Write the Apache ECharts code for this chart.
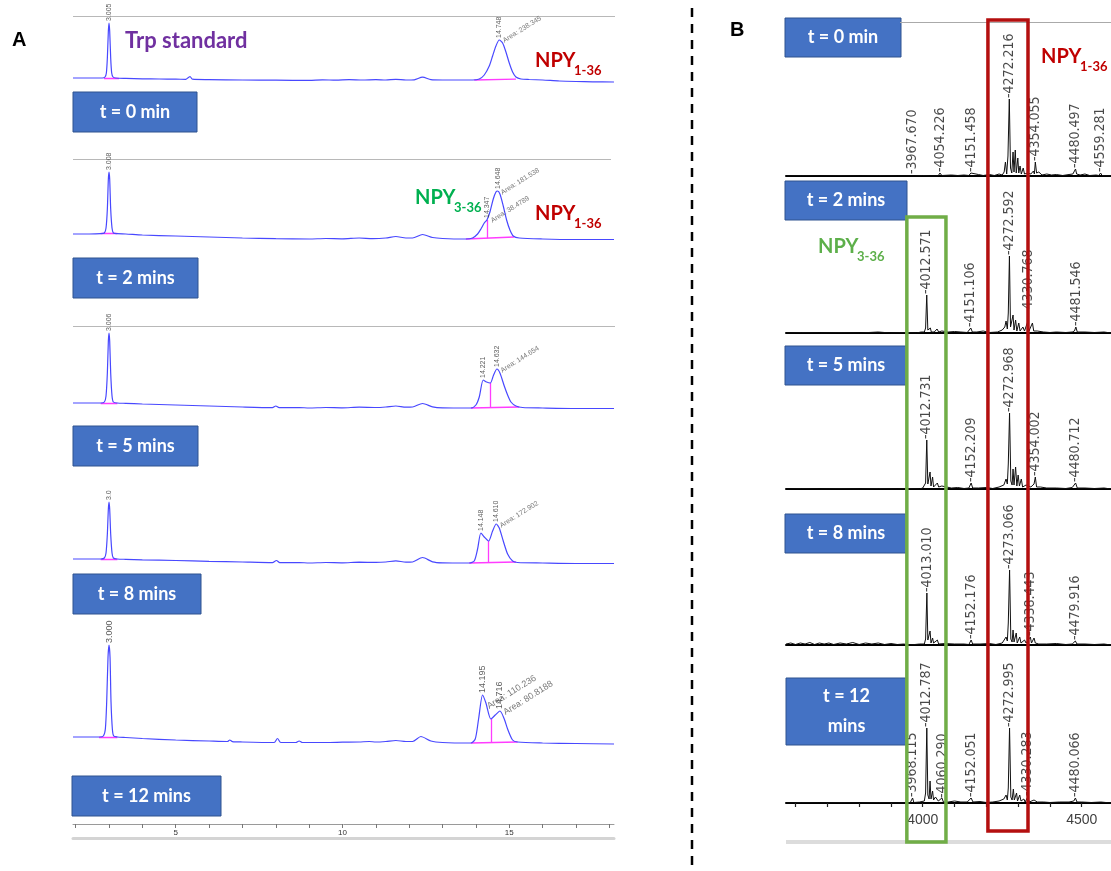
<!DOCTYPE html>
<html><head><meta charset="utf-8">
<script src="https://cdn.jsdelivr.net/npm/echarts@6/dist/echarts.min.js"></script>
<style>html,body{margin:0;padding:0;background:#fff}#c{width:1111px;height:871px}</style>
</head><body><div id="c"></div>
<script>
// ---------------- DATA ----------------
// Panel A: HPLC chromatograms (retention time in min, absorbance in arbitrary mAU)
const sampleTimes = ['t = 0 min', 't = 2 mins', 't = 5 mins', 't = 8 mins', 't = 12 mins'];
const chromT0 = [[1.92,0],[2.3,0],[2.6,0],[2.8,0],[2.88,1],[2.92,5],[2.95,20],[2.98,47],[3.0,55],[3.02,47],[3.05,20],[3.08,5],[3.12,1],[3.2,0],[3.5,-0.4],[4.0,-0.8],[4.5,-1],[5.0,-1.2],[5.3,-1.3],[5.38,0.5],[5.43,1.5],[5.5,-1.2],[6,-1.6],[7,-2],[8,-2.2],[9,-2.4],[9.4,-1.8],[9.8,-2.2],[10.2,-1.6],[10.6,-2],[11,-1.6],[11.3,-2],[11.6,-1.3],[11.9,-2],[12.15,-1.8],[12.4,0.8],[12.65,-1.6],[13,-2],[13.5,-2],[13.9,-2],[14.1,-1],[14.25,3],[14.4,12],[14.5,22],[14.6,32],[14.7,38],[14.8,35],[14.9,26],[15.0,15],[15.1,6],[15.2,1],[15.35,-1],[15.6,-1.5],[16,-2],[16.5,-3],[17,-3.5],[17.5,-3.8],[18.14,-4]];
const chromT2 = [[1.92,0],[2.4,0],[2.75,0.3],[2.86,1],[2.91,6],[2.95,25],[2.98,55],[3.0,62],[3.02,55],[3.05,25],[3.09,6],[3.13,1],[3.25,0.3],[3.5,0],[4,-1],[5,-2],[6,-3],[7,-4],[8,-4.6],[9,-5],[9.5,-4.5],[10,-4.8],[10.5,-4],[10.9,-4.6],[11.3,-4],[11.6,-2.5],[11.9,-4],[12.1,-4],[12.4,-0.5],[12.7,-3.5],[13,-4.5],[13.7,-5],[13.9,-4],[14.05,0],[14.15,5],[14.25,11],[14.33,14],[14.42,22],[14.52,35],[14.6,42],[14.65,43],[14.72,40],[14.82,28],[14.92,14],[15.02,4],[15.12,-2],[15.3,-4],[16,-5],[17,-5.5],[18.14,-5.5]];
const chromT5 = [[1.92,0],[2.4,0],[2.75,0],[2.86,1],[2.91,7],[2.95,30],[2.98,62],[3.0,70],[3.02,62],[3.05,30],[3.09,7],[3.13,1],[3.25,0],[3.5,-0.3],[4,-1],[5,-2],[6,-3],[7,-4],[7.9,-4.6],[8.0,-3],[8.1,-4.6],[8.7,-4.5],[9,-5],[9.5,-4.5],[10,-4.8],[10.5,-4.2],[11,-4.5],[11.3,-4],[11.6,-3],[11.9,-4.2],[12.1,-4],[12.4,-0.5],[12.7,-3.8],[13,-4.8],[13.85,-5],[14.0,-2],[14.1,6],[14.22,23],[14.32,21],[14.43,20],[14.53,28],[14.63,34],[14.72,30],[14.85,17],[14.95,8],[15.05,1],[15.2,-3],[15.4,-4.5],[16,-5],[17,-5.5],[18.14,-5.5]];
const chromT8 = [[1.92,0],[2.4,0],[2.75,0],[2.86,1],[2.91,6],[2.95,25],[2.98,50],[3.0,57],[3.02,50],[3.05,25],[3.09,6],[3.13,1],[3.25,0],[3.5,-0.3],[4,-0.8],[5,-1.5],[6,-2.3],[7,-3],[7.9,-3.6],[8.02,-1.5],[8.12,-3.6],[8.7,-3.5],[9,-4],[9.5,-3.5],[10,-3.8],[10.5,-3.2],[11,-3.4],[11.3,-3],[11.6,-1.8],[11.9,-3.2],[12.1,-3],[12.4,1.5],[12.7,-2.8],[13,-3.8],[13.8,-4],[13.95,-2],[14.05,10],[14.15,26],[14.25,22],[14.38,18],[14.5,28],[14.61,35],[14.7,31],[14.82,18],[14.95,5],[15.1,-2],[15.25,-3.5],[16,-4],[17,-4.5],[18.14,-4.5]];
const chromT12 = [[1.92,0],[2.4,0],[2.7,0],[2.83,1],[2.89,8],[2.93,35],[2.97,80],[3.0,92],[3.03,80],[3.06,35],[3.1,8],[3.14,1],[3.25,0],[3.5,-0.5],[4,-1.5],[5,-3],[6,-4],[6.55,-4.5],[6.62,-3],[6.7,-4.6],[7,-5],[7.95,-5.5],[8.05,-1.5],[8.15,-5.5],[8.6,-5.5],[8.7,-4],[8.8,-5.5],[9.5,-5.5],[10,-5.2],[10.5,-5],[10.8,-4.5],[11.0,-5],[11.3,-4.5],[11.6,-3.5],[11.9,-4.5],[12.1,-4.5],[12.35,0.5],[12.65,-4],[13,-5.5],[13.85,-6],[13.98,-2],[14.08,18],[14.2,42],[14.3,34],[14.45,18],[14.58,22],[14.72,26],[14.85,18],[14.95,8],[15.1,-3],[15.25,-5],[16,-6],[17,-6.5],[18.14,-7]];
const chromTraces = [chromT0, chromT2, chromT5, chromT8, chromT12];

// integration baselines / dividers drawn by the integrator (pink)
const integT0 = [[[2.85,0],[3.3,-0.2]], [[13.95,-2],[15.2,-1.2]]];
const integT2 = [[[2.75,0.3],[3.25,0.3]], [[13.7,-5],[15.15,-3]], [[14.33,-4.3],[14.33,14]]];
const integT5 = [[[2.75,0],[3.25,0]], [[13.85,-5],[15.3,-4]], [[14.43,-4.6],[14.43,20]]];
const integT8 = [[[2.75,0],[3.25,0]], [[13.8,-4],[15.2,-3]], [[14.38,-3.6],[14.38,18]]];
const integT12 = [[[2.7,0],[3.25,0]], [[13.85,-6],[15.25,-5]], [[14.45,-5.6],[14.45,18]]];
const integSegs = [integT0, integT2, integT5, integT8, integT12];

// retention time labels [t, y, text]
const rtLabels = [
  [[3.0,55,'3.005'],[14.7,38,'14.748']],
  [[3.0,62,'3.008'],[14.33,14,'14.347'],[14.65,43,'14.648']],
  [[3.0,70,'3.006'],[14.22,23,'14.221'],[14.63,34,'14.632']],
  [[3.0,57,'3.0'],[14.15,26,'14.148'],[14.61,35,'14.610']],
  [[3.0,92,'3.000'],[14.2,42,'14.195'],[14.72,26,'14.716']]
];
const areaLabels = [
  [[14.74,37,'Area: 238.345']],
  [[14.68,41,'Area: 181.538'],[14.38,13,'Area: 38.4789']],
  [[14.67,32,'Area: 144.654']],
  [[14.65,33,'Area: 172.902']],
  [[14.27,30,'Area: 110.236'],[14.76,24,'Area: 80.8188']]
];
const rulerTicks = [2,3,4,5,6,7,8,9,10,11,12,13,14,15,16,17,18];
const rulerLabels = [5,10,15];

// Panel B: MALDI-TOF spectra (m/z, intensity a.u.)
const spec0 = [[3570,0],[3620,0.5],[3680,0],[3740,0.5],[3800,0],[3860,0.5],[3920,0],[3962,0],[3967.7,2],[3973,0],[4000,0.5],[4020,0],[4048,0],[4054.2,3],[4060,0.5],[4090,1],[4110,0.5],[4130,1],[4145,0.5],[4151.5,3],[4157,1],[4175,1.5],[4190,0.5],[4210,1.5],[4225,0.5],[4240,2],[4250,1],[4256,4],[4260,14],[4264,2],[4268,20],[4272.2,77],[4276,8],[4280,3],[4284,24],[4287,4],[4291,26],[4294,3],[4299,18],[4302,3],[4306,10],[4310,2],[4316,8],[4320,2],[4330,3],[4340,2],[4348,5],[4351,2],[4354,14],[4358,3],[4365,4],[4375,1],[4390,2],[4405,1],[4420,1.5],[4440,0.5],[4460,1.5],[4472,2],[4477,3],[4480.5,7],[4484,2],[4495,1],[4510,2],[4525,0.5],[4545,1],[4554,0.5],[4559.3,3],[4564,0.5],[4592,0]];
const spec2 = [[3570,0],[3620,0.5],[3680,0],[3740,0.5],[3800,0],[3860,1],[3900,0],[3940,0.5],[3980,0],[3995,1],[4005,1],[4009,5],[4012.6,38],[4016,3],[4020,1],[4024,5],[4027,1],[4032,3],[4036,1],[4045,4],[4050,1],[4060,2],[4065,0.5],[4080,1],[4100,1.5],[4120,1],[4140,0.5],[4151.1,5],[4156,1],[4170,1],[4190,2],[4210,0.5],[4235,1],[4250,3],[4258,6],[4262,12],[4266,4],[4269,20],[4272.6,77],[4276,6],[4281,4],[4284,18],[4287,3],[4292,13],[4296,2],[4302,10],[4306,2],[4315,6],[4320,2],[4330.8,12],[4334,2],[4345,10],[4349,2],[4360,2],[4380,1],[4400,0.5],[4420,1],[4450,0.5],[4470,1],[4477,2],[4481.5,6],[4486,1],[4510,1],[4540,0.5],[4570,1],[4592,0]];
const spec5 = [[3570,0],[3620,0.5],[3680,0],[3740,0.5],[3800,0],[3860,0.5],[3920,0],[3960,0.5],[3990,0],[4000,1],[4005,1],[4009,6],[4012.7,49],[4016,5],[4020,3],[4023,17],[4026,3],[4031,12],[4034,2],[4040,4],[4046,6],[4050,2],[4060,3],[4066,1],[4090,1],[4110,1.5],[4130,0.5],[4145,1],[4152.2,6],[4157,1],[4175,1],[4200,1.5],[4220,0.5],[4240,2],[4255,4],[4262,10],[4266,5],[4269,25],[4273.0,76],[4277,8],[4281,4],[4284,20],[4287,4],[4292,22],[4296,3],[4300,14],[4304,3],[4310,10],[4314,2],[4325,4],[4340,2],[4350,5],[4354,12],[4358,2],[4370,2],[4390,1],[4420,1],[4450,0.5],[4470,1.5],[4480.7,6],[4486,1],[4510,1],[4540,0.5],[4570,1],[4592,0]];
const spec8 = [[3570,1],[3585,2],[3600,0.5],[3615,2],[3630,1],[3645,2.5],[3660,0.5],[3675,2],[3690,1],[3705,2],[3720,0.5],[3740,2],[3760,1],[3780,2.5],[3800,0.5],[3820,2],[3840,1],[3860,2],[3880,0.5],[3900,1.5],[3920,0.5],[3940,1],[3960,0],[3990,1],[4005,1],[4009,6],[4013.0,52],[4016,5],[4020,3],[4023,14],[4026,2],[4031,7],[4034,2],[4046,5],[4050,1],[4070,1.5],[4100,1],[4130,1],[4145,0.5],[4152.2,5],[4157,1],[4180,1],[4210,1.5],[4230,0.5],[4250,2],[4262,8],[4266,4],[4269,22],[4273.1,75],[4277,6],[4281,3],[4284,15],[4287,3],[4294,12],[4297,2],[4305,8],[4309,2],[4320,5],[4325,2],[4338.4,8],[4342,2],[4350,7],[4354,2],[4365,1],[4390,1],[4420,1.5],[4450,0.5],[4470,1],[4479.9,4],[4485,1],[4510,1],[4540,0.5],[4570,1],[4592,0]];
const spec12 = [[3570,0],[3620,0.5],[3680,0],[3740,0.5],[3800,0],[3860,0.5],[3920,0],[3960,0],[3968.1,5],[3972,0.5],[3990,1],[4005,2],[4009,10],[4012.8,75],[4016,8],[4020,4],[4023,22],[4026,4],[4031,12],[4034,3],[4040,6],[4045,8],[4049,2],[4060.3,5],[4065,1],[4080,1],[4100,2],[4120,1],[4140,1],[4152.1,5],[4158,1],[4180,1.5],[4200,0.5],[4220,1],[4240,2],[4255,4],[4262,8],[4266,3],[4269,15],[4273.0,75],[4277,6],[4281,3],[4285,14],[4288,3],[4295,10],[4298,2],[4305,8],[4309,2],[4318,4],[4322,1],[4330.3,6],[4335,1],[4350,3],[4360,1],[4380,1],[4400,0.5],[4430,1],[4460,1],[4475,2],[4480.1,5],[4485,1],[4500,1],[4530,0.5],[4560,1],[4592,0]];
const spectra = [spec0, spec2, spec5, spec8, spec12];

// labelled peaks [m/z, intensity, text]
const mzLabels = [
  [[3967.67,1,'3967.670'],[4054.226,3,'4054.226'],[4151.458,3,'4151.458'],[4272.216,77,'4272.216'],[4354.055,14,'4354.055'],[4480.497,7,'4480.497'],[4559.281,3,'4559.281']],
  [[4012.571,38,'4012.571'],[4151.106,5,'4151.106'],[4272.592,77,'4272.592'],[4330.768,18,'4330.768'],[4481.546,6,'4481.546']],
  [[4012.731,49,'4012.731'],[4152.209,6,'4152.209'],[4272.968,76,'4272.968'],[4354.002,12,'4354.002'],[4480.712,6,'4480.712']],
  [[4013.010,52,'4013.010'],[4152.176,5,'4152.176'],[4273.066,75,'4273.066'],[4338.443,8,'4338.443'],[4479.916,4,'4479.916']],
  [[3968.115,5,'3968.115'],[4012.787,75,'4012.787'],[4060.290,4,'4060.290'],[4152.051,5,'4152.051'],[4272.995,75,'4272.995'],[4330.283,6,'4330.283'],[4480.066,5,'4480.066']]
];
const mzTicks = [3600,3700,3800,3900,4000,4100,4200,4300,4400,4500];
const mzTickLabels = [4000,4500];
const boxNPY1_36 = [4205, 4331];   // m/z span of red highlight
const boxNPY3_36 = [3950, 4073];   // m/z span of green highlight

// ---------------- LAYOUT ----------------
const A_LEFT = 73, A_WIDTH = 541, T_MIN = 1.92, T_MAX = 18.14;
const aBase = [78, 234, 403, 559, 737];
const aTop = [70, 75, 77, 70, 100];
const B_LEFT = 786, B_WIDTH = 325, MZ_MIN = 3570, MZ_MAX = 4592;
const bBase = [176, 333, 489, 645, 803];
const NARROW = "'Liberation Sans Narrow','DejaVu Sans Condensed',sans-serif";

const grid = [], xAxis = [], yAxis = [], series = [];

for (let i = 0; i < 5; i++) {
  grid.push({left: A_LEFT, width: A_WIDTH, top: aBase[i] - aTop[i], height: aTop[i] + 10});
  xAxis.push({type: 'value', gridIndex: i, min: T_MIN, max: T_MAX, show: false});
  yAxis.push({type: 'value', gridIndex: i, min: -10, max: aTop[i], show: false});
  series.push({type: 'line', xAxisIndex: i, yAxisIndex: i, data: chromTraces[i], symbol: 'none', smooth: 0.25,
    lineStyle: {color: '#4848ff', width: 1.2}, z: 3, silent: true});
  series.push({type: 'lines', coordinateSystem: 'cartesian2d', xAxisIndex: i, yAxisIndex: i,
    data: integSegs[i].map(s => ({coords: s})), lineStyle: {color: '#ff3cff', width: 1.3, opacity: 1}, z: 2, silent: true});
  const fs = i === 4 ? 9 : 7;
  series.push({type: 'scatter', xAxisIndex: i, yAxisIndex: i, symbolSize: 0, silent: true, z: 4,
    data: rtLabels[i].map(d => ({value: [d[0], d[1]], name: d[2]})),
    label: {show: true, formatter: p => p.name, position: 'top', distance: 2, rotate: 90, align: 'left', verticalAlign: 'middle', fontSize: fs, color: '#333', fontFamily: 'Liberation Sans'}});
  series.push({type: 'scatter', xAxisIndex: i, yAxisIndex: i, symbolSize: 0, silent: true, z: 4,
    data: areaLabels[i].map(d => ({value: [d[0], d[1]], name: d[2]})),
    label: {show: true, formatter: p => p.name, position: 'right', distance: 3, rotate: 32, align: 'left', verticalAlign: 'middle', fontSize: fs, color: '#555', fontFamily: 'Liberation Sans'}});
}
// ruler axis for panel A (grid 5)
grid.push({left: A_LEFT, width: A_WIDTH, top: 824, height: 14});
xAxis.push({type: 'value', gridIndex: 5, min: T_MIN, max: T_MAX, position: 'top',
  axisLine: {show: true, onZero: false, lineStyle: {color: '#9a9a9a', width: 1}},
  axisTick: {show: true, inside: true, length: 4, customValues: rulerTicks, lineStyle: {color: '#777'}},
  axisLabel: {show: true, inside: true, customValues: rulerLabels, fontSize: 8, color: '#333', margin: 5},
  splitLine: {show: false}});
xAxis.push({type: 'value', gridIndex: 5, min: T_MIN, max: T_MAX, position: 'bottom',
  axisLine: {show: true, onZero: false, lineStyle: {color: '#d4d4d4', width: 3}}, axisTick: {show: false}, axisLabel: {show: false}, splitLine: {show: false}});
yAxis.push({type: 'value', gridIndex: 5, min: 0, max: 1, show: false});

// panel B grids
for (let j = 0; j < 5; j++) {
  const g = 6 + j, xi = 7 + j, yi = 6 + j;
  const last = j === 4;
  grid.push({left: B_LEFT, width: B_WIDTH, top: bBase[j] - 100, height: 100});
  xAxis.push({type: 'value', gridIndex: g, min: MZ_MIN, max: MZ_MAX,
    axisLine: {show: true, onZero: false, lineStyle: {color: '#000', width: 2}},
    axisTick: {show: last, length: 4, customValues: mzTicks, lineStyle: {color: '#222', width: 1.2}},
    axisLabel: {show: last, customValues: mzTickLabels, formatter: v => String(v), fontSize: 14, color: '#404040', margin: 10, fontFamily: 'Liberation Sans'},
    splitLine: {show: false}});
  yAxis.push({type: 'value', gridIndex: g, min: 0, max: 100, show: false});
  series.push({type: 'line', xAxisIndex: xi, yAxisIndex: yi, data: spectra[j], symbol: 'none',
    lineStyle: {color: '#111', width: 1}, z: 3, silent: true});
  series.push({type: 'scatter', xAxisIndex: xi, yAxisIndex: yi, symbolSize: 0, silent: true, z: 4,
    data: mzLabels[j].map(d => ({value: [d[0], d[1]], name: d[2]})),
    label: {show: true, formatter: p => '-' + p.name, position: 'top', distance: 1, rotate: 90, align: 'left', verticalAlign: 'middle', fontSize: 14, color: '#1a1a1a', fontFamily: NARROW}});
}

// ---------------- GRAPHICS ----------------
function box(x, y, w, h, txt, lh) {
  return {type: 'group', z: 20, children: [
    {type: 'rect', shape: {x: x, y: y, width: w, height: h}, style: {fill: '#4472C4', stroke: '#2F528F', lineWidth: 1}},
    {type: 'text', style: {text: txt, x: x + w / 2, y: y + h / 2, textAlign: 'center', textVerticalAlign: 'middle', align: 'center', verticalAlign: 'middle',
      fill: '#fff', font: 'bold 18px Lato', lineHeight: lh || 22}}
  ]};
}
function txt(x, y, t, font, color) {
  return {type: 'text', z: 21, style: {text: t, x: x, y: y, textAlign: 'left', textVerticalAlign: 'middle', align: 'left', verticalAlign: 'middle', font: font, fill: color}};
}
function npy(x, y, sub, color) {
  return [txt(x, y, 'NPY', 'bold 20px Lato', color), txt(x + 39, y + 10, sub, 'bold 13px Lato', color)];
}

const chart = echarts.init(document.getElementById('c'));
chart.setOption({animation: false, backgroundColor: '#fff', grid, xAxis, yAxis, series});

const px = v => chart.convertToPixel({xAxisIndex: 11}, v);
const graphic = [
  // frame lines
  {type: 'line', z: 1, shape: {x1: A_LEFT, y1: 16.5, x2: A_LEFT + A_WIDTH + 1, y2: 16.5}, style: {stroke: '#b8b8b8', lineWidth: 1}},
  {type: 'line', z: 1, shape: {x1: A_LEFT, y1: 159.5, x2: A_LEFT + A_WIDTH - 3, y2: 159.5}, style: {stroke: '#b8b8b8', lineWidth: 1}},
  {type: 'line', z: 1, shape: {x1: A_LEFT, y1: 326.5, x2: A_LEFT + A_WIDTH + 1, y2: 326.5}, style: {stroke: '#b8b8b8', lineWidth: 1}},
  {type: 'line', z: 1, shape: {x1: 900, y1: 22.5, x2: 1111, y2: 22.5}, style: {stroke: '#aaaaaa', lineWidth: 1}},
  {type: 'line', z: 1, shape: {x1: B_LEFT, y1: 842, x2: 1111, y2: 842}, style: {stroke: '#dcdcdc', lineWidth: 4}},
  // divider
  {type: 'line', z: 5, shape: {x1: 692, y1: 8, x2: 692, y2: 871}, style: {stroke: '#000', lineWidth: 2.5, lineDash: [9, 7]}},
  // panel letters
  txt(12, 40, 'A', 'bold 20px "Liberation Sans"', '#000'),
  txt(730, 30, 'B', 'bold 20px "Liberation Sans"', '#000'),
  // panel A annotations
  txt(125, 41, 'Trp standard', 'bold 22px Lato', '#7030A0'),
  ...npy(535, 61, '1-36', '#C00000'),
  ...npy(415, 198, '3-36', '#00B050'),
  ...npy(535, 214, '1-36', '#C00000'),
  // panel B annotations
  ...npy(818, 247, '3-36', '#5DAF4A'),
  ...npy(1041, 57, '1-36', '#C00000'),
  // highlight rectangles
  {type: 'rect', z: 15, shape: {x: px(boxNPY1_36[0]), y: 20, width: px(boxNPY1_36[1]) - px(boxNPY1_36[0]), height: 811},
    style: {fill: 'none', stroke: '#B40F0F', lineWidth: 3.5}},
  {type: 'rect', z: 15, shape: {x: px(boxNPY3_36[0]), y: 217, width: px(boxNPY3_36[1]) - px(boxNPY3_36[0]), height: 625},
    style: {fill: 'none', stroke: '#70AD47', lineWidth: 3.5}},
  // time boxes
  box(73, 92, 124, 40, sampleTimes[0]),
  box(73, 258, 125, 40, sampleTimes[1]),
  box(73, 426, 125, 40, sampleTimes[2]),
  box(73, 574, 128, 40, sampleTimes[3]),
  box(72, 776, 149, 40, sampleTimes[4]),
  box(785, 18, 116, 39, sampleTimes[0]),
  box(785, 181, 122, 39, sampleTimes[1]),
  box(785, 346, 122, 39, sampleTimes[2]),
  box(785, 514, 122, 39, sampleTimes[3]),
  box(786, 678, 121, 67, 't = 12\nmins', 30)
];
chart.setOption({graphic});
</script></body></html>
